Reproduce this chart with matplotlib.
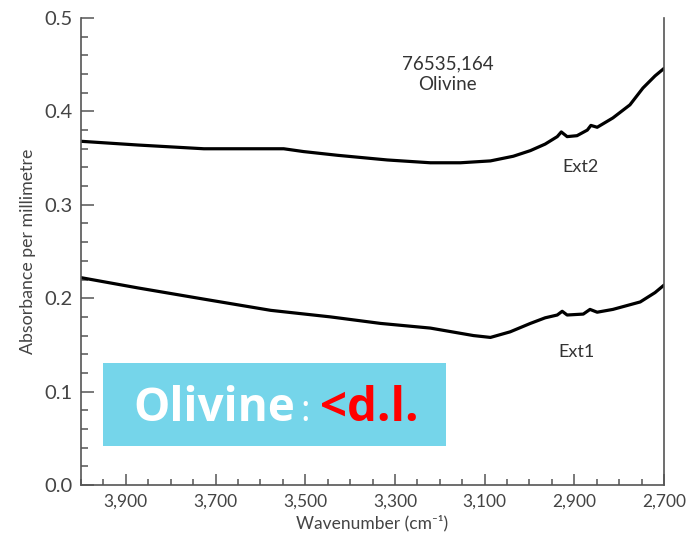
import matplotlib.pyplot as plt
import matplotlib.patches as patches
import numpy as np
from matplotlib.ticker import MultipleLocator, FuncFormatter

plt.rcParams['font.family'] = ['Lato', 'DejaVu Sans']

# wavenumber (cm-1) and absorbance
ext2_wn = [4000, 3873, 3726, 3548, 3504, 3428, 3317, 3221, 3154, 3087, 3036, 2998,
           2965, 2938, 2929, 2916, 2894, 2871, 2863, 2849, 2814, 2776, 2747, 2720, 2700]
ext2_abs = [0.368, 0.364, 0.360, 0.360, 0.357, 0.353, 0.348, 0.345, 0.345, 0.347, 0.352, 0.358,
            0.365, 0.373, 0.378, 0.373, 0.374, 0.380, 0.385, 0.383, 0.393, 0.407, 0.425, 0.438, 0.446]

ext1_wn = [4000, 3873, 3726, 3577, 3444, 3332, 3221, 3125, 3087, 3043, 2998, 2965,
           2938, 2927, 2916, 2880, 2865, 2849, 2814, 2753, 2720, 2700]
ext1_abs = [0.222, 0.211, 0.199, 0.187, 0.180, 0.173, 0.168, 0.160, 0.158, 0.164, 0.173, 0.179,
            0.182, 0.186, 0.182, 0.183, 0.188, 0.185, 0.188, 0.196, 0.206, 0.214]

xticks = [3900, 3700, 3500, 3300, 3100, 2900, 2700]

fig = plt.figure(figsize=(6.89, 5.37), dpi=100)
ax = fig.add_axes([81/689, 1 - 485/537, (664 - 81)/689, (485 - 18)/537])

ax.plot(ext2_wn, ext2_abs, color='black', lw=2.3, solid_capstyle='round')
ax.plot(ext1_wn, ext1_abs, color='black', lw=2.3, solid_capstyle='round')

ax.set_xlim(4000, 2700)
ax.set_ylim(0, 0.5)
ax.set_xticks(xticks)
ax.xaxis.set_minor_locator(MultipleLocator(50))
ax.xaxis.set_major_formatter(FuncFormatter(lambda v, p: f'{int(v):,}'))
ax.yaxis.set_major_locator(MultipleLocator(0.1))
ax.yaxis.set_minor_locator(MultipleLocator(0.02))
ax.yaxis.set_major_formatter(FuncFormatter(lambda v, p: f'{v:.1f}'))

gray = '#555555'
for s in ['left', 'bottom', 'right']:
    ax.spines[s].set_color(gray)
    ax.spines[s].set_linewidth(1.2)
ax.spines['top'].set_visible(False)

ax.tick_params(which='both', direction='in', color=gray, width=1.1, labelcolor='#444444',
               top=False, right=False)
ax.tick_params(axis='y', which='major', length=9, pad=6, labelsize=14.5)
ax.tick_params(axis='y', which='minor', length=5)
ax.tick_params(axis='x', which='major', length=8, pad=6, labelsize=12.5)
ax.tick_params(axis='x', which='minor', length=4.5)

ax.set_xlabel('Wavenumber (cm\u207b\u00b9)', fontsize=12.5, color='#444444', labelpad=4)
ax.set_ylabel('Absorbance per millimetre', fontsize=12.8, color='#444444', labelpad=6)

ax.text(3183, 0.4395, '76535,164\nOlivine', ha='center', va='center', fontsize=13.5,
        color='#333333', linespacing=1.25)
ax.text(2887, 0.341, 'Ext2', ha='center', va='center', fontsize=13, color='#333333')
ax.text(2894, 0.142, 'Ext1', ha='center', va='center', fontsize=13, color='#333333')

# overlay box
fig.patches.append(patches.Rectangle((103/689, 1 - 446/537), 343/689, 83/537,
                                     transform=fig.transFigure, facecolor='#75d5ea',
                                     edgecolor='none', zorder=5))
base = 1 - 421/537
fs = 33
fig.text(133/689, base, 'Olivine', color='white', fontsize=fs, fontweight='bold',
         family=['Open Sans', 'DejaVu Sans'], va='baseline', ha='left', zorder=6)
fig.text(300/689, base, ':', color='white', fontsize=fs * 0.8,
         family=['Open Sans', 'DejaVu Sans'], va='baseline', ha='left', zorder=6)
fig.text(320/689, base, '<d.l.', color='#ff0000', fontsize=fs + 1, fontweight='bold',
         family=['Open Sans', 'DejaVu Sans'], va='baseline', ha='left', zorder=6)

fig.savefig('out.png', dpi=100)
